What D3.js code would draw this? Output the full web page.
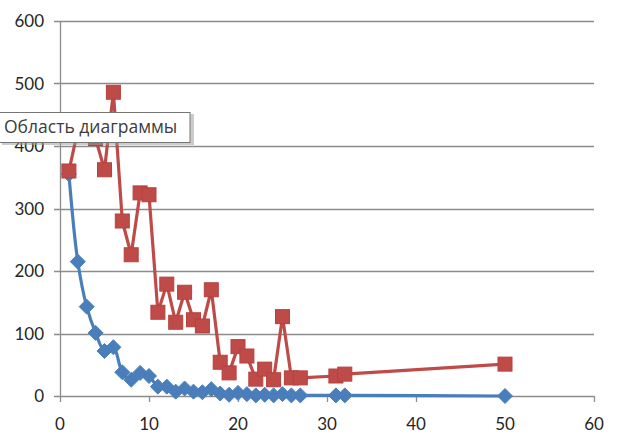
<!DOCTYPE html>
<html>
<head>
<meta charset="utf-8">
<script src="https://cdn.jsdelivr.net/npm/d3@7"></script>
<style>
  body { margin: 0; background: #fff; }
  svg { display: block; }
</style>
</head>
<body>
<div id="chart"></div>
<script>
// x values shared by both series
const xValues = [1, 2, 3, 4, 5, 6, 7, 8, 9, 10, 11, 12, 13, 14, 15, 16, 17, 18, 19, 20, 21, 22, 23, 24, 25, 26, 27, 31, 32, 50];
const blueValues = [355, 215, 143, 101, 72, 78, 38, 26, 37, 32, 15, 15, 7, 12, 7, 6, 11, 4, 2, 5, 3, 1, 2, 1, 3, 1, 1, 1, 1, 0];
const redValues = [360, 425, 430, 412, 362, 486, 280, 226, 325, 322, 134, 179, 118, 166, 122, 112, 170, 54, 37, 79, 64, 27, 43, 26, 127, 29, 29, 32, 35, 51];
const xTicks = [0, 10, 20, 30, 40, 50, 60];
const yTicks = [0, 100, 200, 300, 400, 500, 600];
const tooltipText = "Область диаграммы";

const width = 627, height = 444;
const margin = { top: 21, right: 33, bottom: 48, left: 60 };
const innerW = width - margin.left - margin.right;
const innerH = height - margin.top - margin.bottom;

const svg = d3.select("#chart").append("svg")
  .attr("width", width)
  .attr("height", height);

const g = svg.append("g")
  .attr("transform", `translate(${margin.left},${margin.top})`);

const x = d3.scaleLinear().domain([0, 60]).range([0, innerW]);
const y = d3.scaleLinear().domain([0, 600]).range([innerH, 0]);

const font = "Lato, 'Open Sans', sans-serif";

// horizontal gridlines + y ticks
g.selectAll("line.grid")
  .data(yTicks)
  .join("line")
  .attr("class", "grid")
  .attr("x1", -6)
  .attr("x2", innerW)
  .attr("y1", d => Math.round(y(d)) + 0.5)
  .attr("y2", d => Math.round(y(d)) + 0.5)
  .attr("stroke", "#8c8c8c")
  .attr("stroke-width", 1.3);

// y axis line
g.append("line")
  .attr("x1", 0.5).attr("x2", 0.5)
  .attr("y1", 0).attr("y2", innerH)
  .attr("stroke", "#8c8c8c")
  .attr("stroke-width", 1.3);

// x ticks
g.selectAll("line.xtick")
  .data(xTicks)
  .join("line")
  .attr("class", "xtick")
  .attr("x1", d => Math.round(x(d)) + 0.5)
  .attr("x2", d => Math.round(x(d)) + 0.5)
  .attr("y1", innerH)
  .attr("y2", innerH + 6)
  .attr("stroke", "#8c8c8c")
  .attr("stroke-width", 1.3);

// y labels
g.selectAll("text.ylab")
  .data(yTicks)
  .join("text")
  .attr("class", "ylab")
  .attr("x", -16)
  .attr("y", d => y(d) + 6)
  .attr("text-anchor", "end")
  .style("font-family", font)
  .style("font-size", "17px")
  .style("fill", "#262626")
  .text(d => d);

// x labels
g.selectAll("text.xlab")
  .data(xTicks)
  .join("text")
  .attr("class", "xlab")
  .attr("x", d => x(d))
  .attr("y", innerH + 34)
  .attr("text-anchor", "middle")
  .style("font-family", font)
  .style("font-size", "17px")
  .style("fill", "#262626")
  .text(d => d);

const blueData = xValues.map((d, i) => ({ x: d, y: blueValues[i] }));
const redData = xValues.map((d, i) => ({ x: d, y: redValues[i] }));

const blueColor = "#4a7ebb";
const redColor = "#be4b48";

// blue series (smoothed)
g.append("path")
  .datum(blueData)
  .attr("fill", "none")
  .attr("stroke", blueColor)
  .attr("stroke-width", 3.2)
  .attr("stroke-linejoin", "round")
  .attr("d", d3.line().x(d => x(d.x)).y(d => y(d.y)).curve(d3.curveCatmullRom.alpha(0.5)));

g.selectAll("path.diamond")
  .data(blueData)
  .join("path")
  .attr("class", "diamond")
  .attr("transform", d => `translate(${x(d.x)},${y(d.y)})`)
  .attr("d", "M0,-7.5L7.5,0L0,7.5L-7.5,0Z")
  .attr("fill", blueColor)
  .attr("stroke", blueColor)
  .attr("stroke-width", 1);

// red series
g.append("path")
  .datum(redData)
  .attr("fill", "none")
  .attr("stroke", redColor)
  .attr("stroke-width", 3.2)
  .attr("stroke-linejoin", "round")
  .attr("d", d3.line().x(d => x(d.x)).y(d => y(d.y)));

g.selectAll("rect.square")
  .data(redData)
  .join("rect")
  .attr("class", "square")
  .attr("x", d => x(d.x) - 7)
  .attr("y", d => y(d.y) - 7)
  .attr("width", 14)
  .attr("height", 14)
  .attr("fill", redColor)
  .attr("stroke", "#b8403d")
  .attr("stroke-width", 1);

// tooltip box
const tip = svg.append("g").attr("transform", "translate(0,112)");
tip.append("rect")
  .attr("x", 2).attr("y", 2)
  .attr("width", 192).attr("height", 31)
  .attr("fill", "#999")
  .attr("opacity", 0.5);
tip.append("rect")
  .attr("x", -1).attr("y", 0.5)
  .attr("width", 191).attr("height", 30)
  .attr("fill", "#fff")
  .attr("stroke", "#767676")
  .attr("stroke-width", 1);
tip.append("text")
  .attr("x", 4)
  .attr("y", 21)
  .style("font-family", "'Open Sans', sans-serif")
  .style("font-size", "17.5px")
  .style("fill", "#3c3c3c")
  .text(tooltipText);
</script>
</body>
</html>
